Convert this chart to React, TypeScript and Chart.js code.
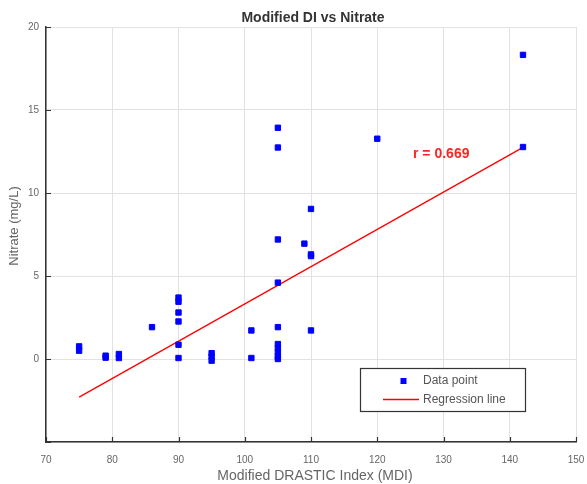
import React, { useEffect, useRef } from "react";
import { Chart, registerables } from "chart.js";

Chart.register(...registerables);

// ---- data ----
const mdiValues = [
  75, 75,
  79, 79,
  81, 81,
  86,
  90, 90, 90, 90, 90, 90,
  95, 95, 95,
  101, 101,
  105, 105, 105, 105, 105, 105, 105, 105, 105, 105,
  109,
  110, 110, 110, 110,
  120,
  142, 142,
];
const nitrateValues = [
  0.76, 0.5,
  0.2, 0.08,
  0.3, 0.06,
  1.92,
  3.7, 3.45, 2.8, 2.26, 0.86, 0.06,
  0.35, 0.15, -0.1,
  1.72, 0.06,
  13.93, 12.74, 7.2, 4.6, 1.92, 0.9, 0.65, 0.4, 0.15, 0.0,
  6.95,
  9.04, 6.3, 6.2, 1.72,
  13.27,
  18.32, 12.77,
];
const regressionX = [75, 142];
const regressionY = [-2.3, 12.75];
const xTicks = [70, 80, 90, 100, 110, 120, 130, 140, 150];
const yTicks = [-5, 0, 5, 10, 15, 20];
const seriesLabels = ["Data point", "Regression line"];
const chartTitle = "Modified DI vs Nitrate";
const xTitle = "Modified DRASTIC Index (MDI)";
const yTitle = "Nitrate (mg/L)";
const rLabel = "r = 0.669";
const rLabelPos = { x: 125.4, y: 12.35 };

const POINT_COLOR = "#0000ff";
const LINE_COLOR = "#ff0000";
const FONT = "'Liberation Sans', Arial, sans-serif";

const decorPlugin = {
  id: "decor",
  afterDraw(chart: any) {
    const ctx = chart.ctx;
    const xs = chart.scales.x;
    const ys = chart.scales.y;
    const area = chart.chartArea;
    ctx.save();
    // inward tick marks
    ctx.strokeStyle = "#333";
    ctx.lineWidth = 1.2;
    ctx.beginPath();
    yTicks.forEach((v) => {
      const py = Math.round(ys.getPixelForValue(v)) + 0.5;
      ctx.moveTo(area.left, py);
      ctx.lineTo(area.left + 5, py);
    });
    xTicks.forEach((v) => {
      const px = Math.round(xs.getPixelForValue(v)) + 0.5;
      ctx.moveTo(px, area.bottom);
      ctx.lineTo(px, area.bottom - 5);
    });
    ctx.stroke();

    // title
    ctx.fillStyle = "#333";
    ctx.font = `bold 14px ${FONT}`;
    ctx.textAlign = "center";
    ctx.textBaseline = "alphabetic";
    ctx.fillText(chartTitle, (area.left + area.right) / 2 + 2, 22);

    // x title
    ctx.fillStyle = "#666";
    ctx.font = `14px ${FONT}`;
    ctx.fillText(xTitle, (area.left + area.right) / 2 + 4, 480);

    // y title
    ctx.save();
    ctx.translate(14, 226);
    ctx.rotate(-Math.PI / 2);
    ctx.textBaseline = "middle";
    ctx.font = `13px ${FONT}`;
    ctx.fillText(yTitle, 0, 0);
    ctx.restore();

    // r annotation
    ctx.fillStyle = "#ff2424";
    ctx.font = `bold 14px ${FONT}`;
    ctx.textAlign = "left";
    ctx.textBaseline = "middle";
    ctx.fillText(rLabel, xs.getPixelForValue(rLabelPos.x), ys.getPixelForValue(rLabelPos.y));

    // legend box
    const bx = 360.5, by = 368.5, bw = 165, bh = 43;
    ctx.fillStyle = "#fff";
    ctx.fillRect(bx, by, bw, bh);
    ctx.strokeStyle = "#333";
    ctx.lineWidth = 1.2;
    ctx.strokeRect(bx, by, bw, bh);
    // marker
    ctx.fillStyle = POINT_COLOR;
    ctx.fillRect(400.5, 378, 6, 6);
    // line
    ctx.strokeStyle = LINE_COLOR;
    ctx.lineWidth = 1.3;
    ctx.beginPath();
    ctx.moveTo(383, 399.5);
    ctx.lineTo(419, 399.5);
    ctx.stroke();
    ctx.fillStyle = "#555";
    ctx.font = `12px ${FONT}`;
    ctx.textBaseline = "middle";
    ctx.fillText(seriesLabels[0], 423, 381);
    ctx.fillText(seriesLabels[1], 423, 400);
    ctx.restore();
  },
};

export default function App() {
  const ref = useRef<HTMLCanvasElement | null>(null);
  useEffect(() => {
    if (!ref.current) return;
    const points = mdiValues.map((x, i) => ({ x, y: nitrateValues[i] }));
    const line = regressionX.map((x, i) => ({ x, y: regressionY[i] }));
    const chart = new Chart(ref.current, {
      type: "scatter",
      data: {
        datasets: [
          {
            label: seriesLabels[0],
            data: points,
            backgroundColor: POINT_COLOR,
            borderColor: POINT_COLOR,
            pointStyle: "rect",
            pointRadius: 3.8,
            pointBorderWidth: 1,
          },
          {
            label: seriesLabels[1],
            type: "line",
            data: line,
            borderColor: LINE_COLOR,
            backgroundColor: LINE_COLOR,
            borderWidth: 1.3,
            pointRadius: 0,
            showLine: true,
            fill: false,
          },
        ],
      } as any,
      options: {
        animation: false,
        responsive: false,
        maintainAspectRatio: false,
        layout: { padding: { top: 27, right: 11, left: 0, bottom: 0 } },
        plugins: {
          legend: { display: false },
          title: { display: false },
          tooltip: { enabled: false },
        },
        scales: {
          x: {
            type: "linear",
            min: 70,
            max: 150,
            afterBuildTicks: (s: any) => {
              s.ticks = xTicks.map((v) => ({ value: v }));
            },
            afterFit: (s: any) => {
              s.height = 42;
              s.paddingLeft = 0;
              s.paddingRight = 0;
            },
            ticks: {
              font: { family: FONT, size: 10 },
              color: "#666",
              padding: 12,
              maxRotation: 0,
            },
            grid: { color: "#e2e2e2", lineWidth: 1, drawTicks: false },
            border: { display: true, color: "#333", width: 1.5 },
          },
          y: {
            type: "linear",
            min: -5,
            max: 20,
            afterBuildTicks: (s: any) => {
              s.ticks = yTicks.map((v) => ({ value: v }));
            },
            afterFit: (s: any) => {
              s.width = 46;
              s.paddingTop = 0;
              s.paddingBottom = 0;
            },
            ticks: {
              font: { family: FONT, size: 10 },
              color: "#666",
              padding: 7,
              callback: (v: any) => (v === -5 ? "" : String(v)),
            },
            grid: { color: "#e2e2e2", lineWidth: 1, drawTicks: false },
            border: { display: true, color: "#333", width: 1.5 },
          },
        },
      },
      plugins: [decorPlugin],
    } as any);
    return () => chart.destroy();
  }, []);
  return (
    <div style={{ position: "fixed", left: 0, top: 0, width: 587, height: 484, background: "#fff" }}>
      <canvas ref={ref} width={587} height={484} style={{ width: 587, height: 484, display: "block" }} />
    </div>
  );
}
